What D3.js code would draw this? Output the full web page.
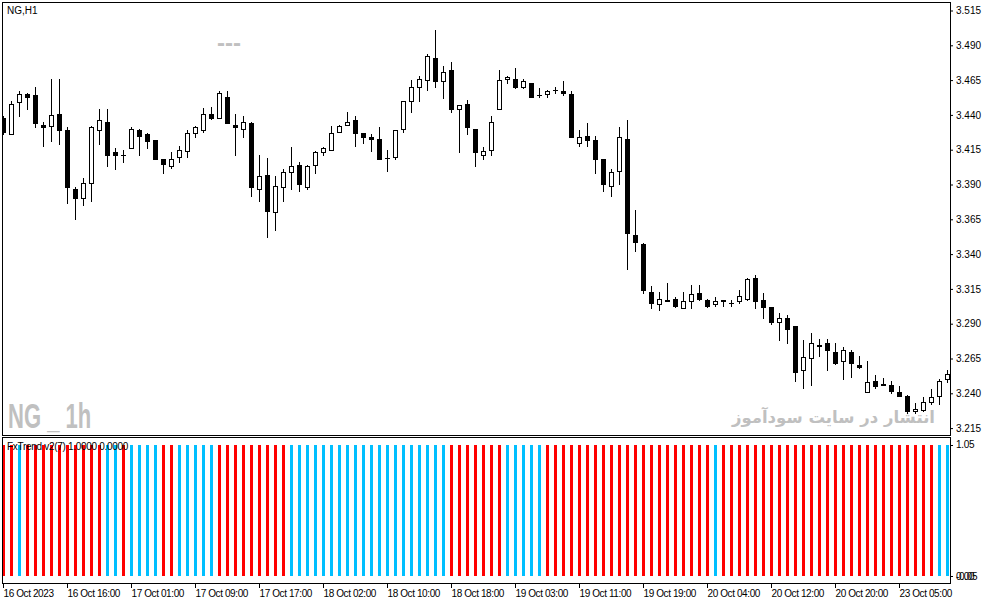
<!DOCTYPE html>
<html><head><meta charset="utf-8">
<script src="https://cdn.jsdelivr.net/npm/d3@7/dist/d3.min.js"></script>
<style>
html,body{margin:0;padding:0;background:#fff;overflow:hidden}
svg{display:block}
text{font-family:"Liberation Sans",Arial,sans-serif}
</style></head><body>
<svg id="c" width="991" height="605"></svg>
<script>
const symbolLabel = "NG,H1";
const indicatorLabel = "FxTrend v2(7) 1.0000 0.0000";
const watermarkLeft = "NG _ 1h";
const watermarkRight = "انتشار در سایت سودآموز";
const dashLabel = "---";

const openP = [3.438,3.426,3.449,3.455,3.454,3.433,3.432,3.441,3.429,3.387,3.380,3.391,3.429,3.435,3.413,3.411,3.416,3.429,3.426,3.422,
3.408,3.403,3.410,3.414,3.427,3.429,3.441,3.438,3.453,3.433,3.430,3.434,3.387,3.397,3.370,3.388,3.399,3.404,3.388,3.404,
3.413,3.415,3.428,3.433,3.436,3.427,3.424,3.423,3.409,3.410,3.430,3.450,3.460,3.465,3.481,3.464,3.472,3.444,3.448,3.430,
3.411,3.415,3.444,3.466,3.466,3.460,3.463,3.454,3.455,3.458,3.457,3.455,3.420,3.425,3.422,3.408,3.389,3.400,3.423,3.354,
3.347,3.313,3.304,3.307,3.308,3.301,3.306,3.312,3.307,3.304,3.307,3.305,3.306,3.308,3.323,3.307,3.302,3.291,3.294,3.288,
3.257,3.265,3.274,3.276,3.270,3.263,3.270,3.260,3.241,3.249,3.247,3.246,3.241,3.238,3.227,3.228,3.234,3.238,3.250];
const highP = [3.439,3.450,3.457,3.456,3.460,3.435,3.466,3.466,3.431,3.388,3.395,3.432,3.444,3.444,3.416,3.415,3.431,3.430,3.427,3.422,
3.408,3.413,3.418,3.429,3.432,3.445,3.446,3.457,3.457,3.441,3.439,3.435,3.411,3.409,3.396,3.401,3.417,3.406,3.404,3.414,
3.417,3.432,3.433,3.442,3.439,3.427,3.426,3.431,3.415,3.429,3.450,3.465,3.468,3.484,3.501,3.475,3.478,3.447,3.451,3.430,
3.417,3.439,3.472,3.468,3.474,3.466,3.463,3.459,3.458,3.460,3.464,3.457,3.429,3.434,3.425,3.408,3.401,3.431,3.436,3.372,
3.348,3.317,3.313,3.319,3.309,3.313,3.318,3.318,3.308,3.309,3.307,3.307,3.314,3.323,3.325,3.312,3.302,3.298,3.296,3.288,
3.278,3.283,3.279,3.279,3.276,3.273,3.271,3.267,3.263,3.253,3.251,3.249,3.245,3.239,3.233,3.237,3.243,3.250,3.257];
const lowP = [3.426,3.426,3.439,3.444,3.431,3.418,3.421,3.419,3.377,3.365,3.375,3.378,3.419,3.403,3.401,3.406,3.416,3.411,3.416,3.408,
3.398,3.402,3.406,3.410,3.424,3.428,3.437,3.438,3.434,3.411,3.424,3.382,3.378,3.352,3.357,3.378,3.387,3.385,3.387,3.398,
3.411,3.415,3.428,3.433,3.418,3.420,3.414,3.408,3.400,3.408,3.428,3.442,3.450,3.458,3.460,3.452,3.442,3.413,3.426,3.403,
3.408,3.411,3.444,3.463,3.459,3.459,3.453,3.453,3.453,3.456,3.454,3.424,3.418,3.418,3.398,3.385,3.382,3.390,3.329,3.342,
3.312,3.301,3.300,3.306,3.302,3.301,3.301,3.307,3.302,3.303,3.303,3.303,3.305,3.307,3.301,3.294,3.290,3.278,3.276,3.249,
3.244,3.246,3.267,3.257,3.261,3.250,3.252,3.258,3.241,3.244,3.246,3.240,3.238,3.226,3.226,3.227,3.232,3.232,3.248];
const closeP = [3.428,3.448,3.455,3.453,3.434,3.431,3.440,3.429,3.388,3.380,3.391,3.431,3.436,3.411,3.411,3.411,3.430,3.425,3.421,3.408,
3.405,3.408,3.415,3.427,3.431,3.441,3.438,3.456,3.434,3.431,3.435,3.388,3.396,3.371,3.389,3.399,3.403,3.390,3.403,3.413,
3.416,3.427,3.432,3.435,3.427,3.424,3.423,3.408,3.409,3.429,3.450,3.460,3.466,3.482,3.464,3.471,3.444,3.447,3.431,3.413,
3.414,3.435,3.465,3.467,3.460,3.464,3.453,3.454,3.457,3.458,3.456,3.424,3.424,3.422,3.408,3.390,3.399,3.424,3.355,3.349,
3.314,3.305,3.308,3.306,3.303,3.306,3.311,3.308,3.303,3.306,3.306,3.305,3.310,3.322,3.306,3.302,3.291,3.294,3.286,3.255,
3.266,3.276,3.275,3.271,3.262,3.271,3.262,3.259,3.248,3.245,3.246,3.242,3.238,3.227,3.229,3.234,3.237,3.249,3.254];

// FxTrend state per bar: 1 = up (blue buffer), 0 = down (red buffer)
const trendUp = [0,0,1,0,0,0,0,0,0,0,0,0,0,1,1,0,1,1,1,1,
0,0,1,1,1,1,1,0,0,0,0,0,0,0,0,0,1,1,1,1,
1,1,1,1,1,1,1,1,1,1,1,1,1,1,1,1,0,0,0,0,
0,0,0,1,1,1,1,1,0,0,0,0,0,0,0,0,0,0,0,0,
0,0,0,0,0,0,0,0,0,1,0,0,0,0,0,0,0,0,0,0,
0,0,0,0,0,0,0,0,0,0,0,0,0,0,0,0,0,1,1];

const priceTicks = [3.215,3.240,3.265,3.290,3.315,3.340,3.365,3.390,3.415,3.440,3.465,3.490,3.515];
const timeTickIndex = [0,8,16,24,32,40,48,56,64,72,80,88,96,104,112];
const timeLabels = ["16 Oct 2023","16 Oct 16:00","17 Oct 01:00","17 Oct 09:00","17 Oct 17:00","18 Oct 02:00","18 Oct 10:00",
"18 Oct 18:00","19 Oct 03:00","19 Oct 11:00","19 Oct 19:00","20 Oct 04:00","20 Oct 12:00","20 Oct 20:00","23 Oct 05:00"];
const indTickValues = [1.05, 0.00, -0.05];
const indTickLabels = ["1.05", "0.00", "-0.05"];

const colUp = "#00bfff", colDown = "#ff0000", colWater = "#c0c0c0";

const svg = d3.select("#c");
const N = openP.length;
const candles = d3.range(N).map(i => ({i, o: openP[i], h: highP[i], l: lowP[i], c: closeP[i], up: trendUp[i]}));

const x = d3.scaleLinear().domain([0, 1]).range([3, 11]);
const y = d3.scaleLinear().domain([3.215, 3.515]).range([428.1, 10.5]);
const yi = d3.scaleLinear().domain([-0.05, 1.05]).range([583, 438]);

svg.append("rect").attr("width", 991).attr("height", 605).attr("fill", "#fff");

// watermarks (behind)
svg.append("text").text(watermarkLeft)
  .attr("transform", "translate(8,428) scale(0.63,1)")
  .attr("font-size", 35).attr("font-weight", "bold").attr("fill", colWater);
svg.append("text").text(watermarkRight)
  .attr("x", 935).attr("y", 423).attr("text-anchor", "start")
  .attr("direction", "rtl")
  .style("font-family", "'DejaVu Sans', sans-serif")
  .attr("font-size", 16.5).attr("font-weight", "bold").attr("fill", colWater);
svg.append("text").text(dashLabel)
  .attr("x", 217).attr("y", 50.5).attr("font-size", 24).attr("font-weight", "bold").attr("fill", colWater);

// main chart clip
svg.append("clipPath").attr("id", "mclip").append("rect").attr("x", 3).attr("y", 3).attr("width", 947).attr("height", 432);
const main = svg.append("g").attr("clip-path", "url(#mclip)");
const r = v => Math.round(v);

main.selectAll("line.wick").data(candles).join("line").attr("class", "wick")
  .attr("x1", d => r(x(d.i)) + 0.5).attr("x2", d => r(x(d.i)) + 0.5)
  .attr("y1", d => r(y(d.h))).attr("y2", d => r(y(d.l)) + 1)
  .attr("stroke", "#000").attr("stroke-width", 1);

const bodies = candles.filter(d => r(y(d.o)) !== r(y(d.c)));
const dojis = candles.filter(d => r(y(d.o)) === r(y(d.c)));
main.selectAll("rect.body").data(bodies).join("rect").attr("class", "body")
  .attr("x", d => r(x(d.i)) - 2 + 0.5)
  .attr("y", d => r(y(Math.max(d.o, d.c))) + 0.5)
  .attr("width", 4)
  .attr("height", d => r(y(Math.min(d.o, d.c))) - r(y(Math.max(d.o, d.c))))
  .attr("fill", d => d.c >= d.o ? "#fff" : "#000")
  .attr("stroke", "#000").attr("stroke-width", 1);
main.selectAll("line.doji").data(dojis).join("line").attr("class", "doji")
  .attr("x1", d => r(x(d.i)) - 2).attr("x2", d => r(x(d.i)) + 3)
  .attr("y1", d => r(y(d.c)) + 0.5).attr("y2", d => r(y(d.c)) + 0.5)
  .attr("stroke", "#000");

// indicator histogram
const ind = svg.append("g");
ind.selectAll("rect.bar").data(candles).join("rect").attr("class", "bar")
  .attr("x", d => r(x(d.i)) - 1).attr("width", 3)
  .attr("y", d => r(yi(1))).attr("height", d => r(yi(0)) - r(yi(1)))
  .attr("fill", d => d.up ? colUp : colDown);

// frames
svg.append("rect").attr("x", 2.5).attr("y", 2.5).attr("width", 948).attr("height", 433)
  .attr("fill", "none").attr("stroke", "#000");
svg.append("rect").attr("x", 2.5).attr("y", 437.5).attr("width", 948).attr("height", 146)
  .attr("fill", "none").attr("stroke", "#000");

// labels
svg.append("text").text(symbolLabel).attr("x", 7).attr("y", 14).attr("font-size", 10).attr("fill", "#000");
svg.append("text").text(indicatorLabel).attr("x", 7).attr("y", 450).attr("font-size", 10)
  .attr("letter-spacing", -0.3).attr("fill", "#000");

// price axis
const pAxis = svg.append("g").attr("transform", "translate(950,0)")
  .call(d3.axisRight(y).tickValues(priceTicks).tickFormat(d3.format(".3f")).tickSize(3).tickPadding(3));
pAxis.select(".domain").remove();
pAxis.selectAll("text").attr("font-family", "Liberation Sans, Arial, sans-serif").attr("font-size", 10).attr("fill", "#000");

// indicator axis (MT4 prints the 0.00 and -0.05 labels on top of each other)
const iAxis = svg.append("g").attr("transform", "translate(950,0)");
iAxis.selectAll("line").data([1, 0]).join("line")
  .attr("x1", 0).attr("x2", 3).attr("y1", d => r(yi(d)) + 0.5).attr("y2", d => r(yi(d)) + 0.5)
  .attr("stroke", "#000");
iAxis.selectAll("text").data(indTickValues).join("text")
  .text((d, i) => indTickLabels[i])
  .attr("x", 6).attr("y", d => d > 0.5 ? yi(1) + 3.5 : yi(0) + 3.5)
  .attr("font-size", 10).attr("letter-spacing", -0.3).attr("fill", "#000");

// time axis
const tAxis = svg.append("g").attr("transform", "translate(0,584)")
  .call(d3.axisBottom(x).tickValues(timeTickIndex).tickFormat((d, i) => timeLabels[i]).tickSize(4).tickPadding(2));
tAxis.select(".domain").remove();
tAxis.selectAll("text").attr("text-anchor", "start").attr("font-family", "Liberation Sans, Arial, sans-serif")
  .attr("font-size", 10).attr("letter-spacing", -0.4).attr("fill", "#000").attr("dy", null).attr("y", 13);
</script></body></html>
